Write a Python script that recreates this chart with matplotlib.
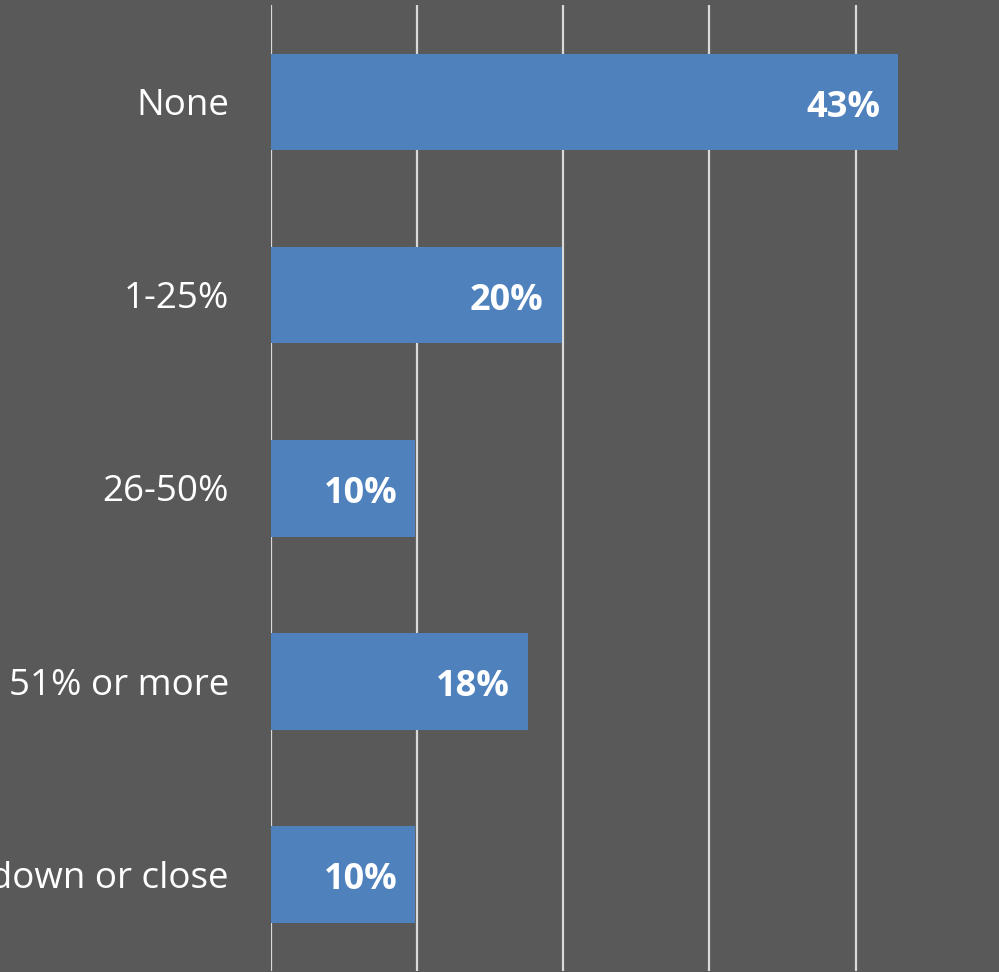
import matplotlib
matplotlib.use("Agg")
import matplotlib.pyplot as plt

categories = ["None", "1-25%", "26-50%", "51% or more", "Shut down or close"]
values = [0.429, 0.199, 0.099, 0.176, 0.099]
value_labels = ["43%", "20%", "10%", "18%", "10%"]
xticks = [0.0, 0.1, 0.2, 0.3, 0.4, 0.5]

BG = "#595959"
BAR = "#4f81bd"
GRID = "#d9d9d9"

plt.rcParams['font.family'] = ['Open Sans', 'DejaVu Sans']

W, H = 999, 972
fig = plt.figure(figsize=(W / 100, H / 100), dpi=100)
fig.patch.set_facecolor(BG)

left_px, right_px = 270.5, 1002.0
top_px, bot_px = 5.5, 971.0
ax = fig.add_axes([left_px / W, 1 - bot_px / H, (right_px - left_px) / W, (bot_px - top_px) / H])
ax.set_facecolor(BG)

ypos = list(range(len(categories)))
ax.barh(ypos, values, height=0.5, color=BAR, zorder=3)
ax.set_xlim(0, 0.5)
ax.set_ylim(len(categories) - 0.5, -0.5)

ax.set_xticks(xticks)
ax.xaxis.grid(True, color=GRID, linewidth=1.6, zorder=1)
ax.tick_params(axis='x', length=0, labelbottom=False)
ax.set_yticks(ypos)
ax.tick_params(axis='y', length=0, labelleft=False)
for s in ax.spines.values():
    s.set_visible(False)

ytrans = ax.get_yaxis_transform()
for y, cat in zip(ypos, categories):
    ax.annotate(cat, xy=(0, y), xycoords=ytrans, xytext=(-30.0, -9.5),
                textcoords='offset points', ha='right', va='baseline',
                color='white', fontsize=26.5, annotation_clip=False)

for y, v, lab in zip(ypos, values, value_labels):
    ax.annotate(lab, xy=(v, y), xytext=(-13, -10.5), textcoords='offset points',
                ha='right', va='baseline', color='white', fontsize=26,
                fontweight='bold', fontstretch='normal', zorder=4)

fig.savefig("out.png", dpi=100, facecolor=BG)
